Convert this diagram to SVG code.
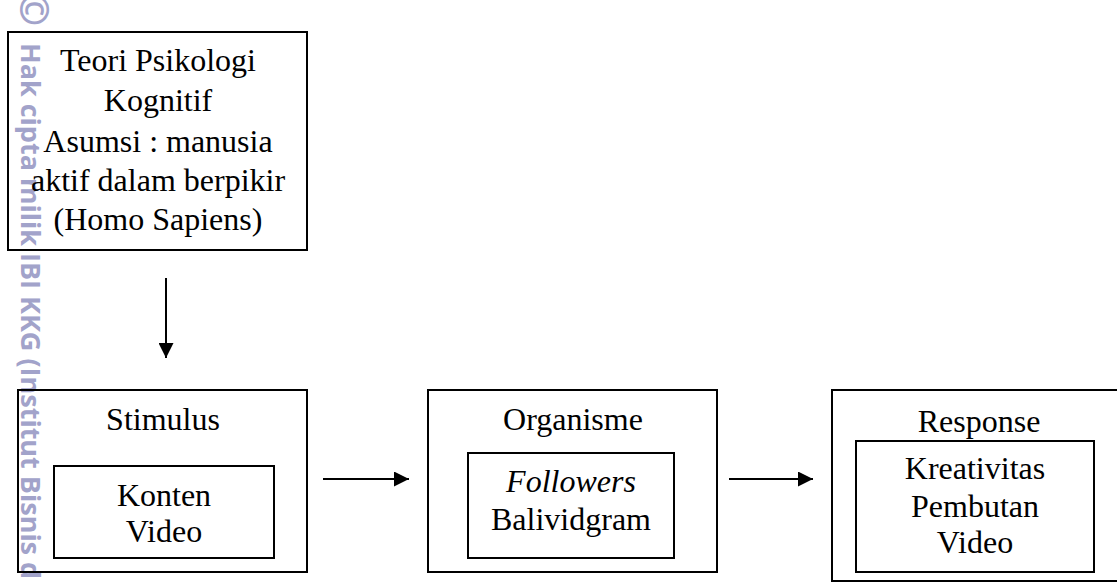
<svg xmlns="http://www.w3.org/2000/svg" width="1117" height="582" viewBox="0 0 1117 582">
<defs>
<style>
.box{fill:none;stroke:#000;stroke-width:2}
.t{font-family:"Liberation Serif","Times New Roman",serif;font-size:32px;fill:#000;text-anchor:middle}
.it{font-style:italic}
.wm{font-family:"Open Sans","DejaVu Sans",sans-serif;font-weight:bold;fill:#a2a3ca}
.conn{stroke:#000;stroke-width:2;fill:none}
</style>
<marker id="ah" markerWidth="15" markerHeight="15" viewBox="0 0 15 15" refX="15" refY="7.5" orient="auto" markerUnits="userSpaceOnUse">
<path d="M0,0 L15,7.5 L0,15 Z" fill="#000"/>
</marker>
</defs>
<rect width="1117" height="582" fill="#fff"/>
<g id="watermark">
<text class="wm" font-size="40" transform="translate(20,-7) rotate(90)">©</text>
<text class="wm" font-size="27" transform="translate(21,43) rotate(90)">Hak cipta milik IBI KKG (Institut Bisnis d</text>
</g>
<g id="teori">
<rect class="box" x="8" y="32" width="299" height="218"/>
<text class="t" x="158" y="71">Teori Psikologi</text>
<text class="t" x="158" y="111">Kognitif</text>
<text class="t" x="158" y="152">Asumsi : manusia</text>
<text class="t" x="158" y="191">aktif dalam berpikir</text>
<text class="t" x="158" y="230">(Homo Sapiens)</text>
</g>
<g id="stimulus">
<rect class="box" x="18" y="390" width="289" height="182"/>
<text class="t" x="163" y="430">Stimulus</text>
<rect class="box" x="54" y="466" width="220" height="92"/>
<text class="t" x="164" y="506">Konten</text>
<text class="t" x="164" y="542">Video</text>
</g>
<g id="organisme">
<rect class="box" x="428" y="390" width="289" height="182"/>
<text class="t" x="573" y="430">Organisme</text>
<rect class="box" x="468" y="453" width="206" height="105"/>
<text class="t it" x="571" y="492">Followers</text>
<text class="t" x="571" y="530">Balividgram</text>
</g>
<g id="response">
<rect class="box" x="832" y="390" width="300" height="191"/>
<text class="t" x="979" y="432">Response</text>
<rect class="box" x="856" y="441" width="238" height="131"/>
<text class="t" x="975" y="479">Kreativitas</text>
<text class="t" x="975" y="517">Pembutan</text>
<text class="t" x="975" y="553">Video</text>
</g>
<g id="connectors">
<line class="conn" x1="166" y1="278" x2="166" y2="358" marker-end="url(#ah)"/>
<line class="conn" x1="323" y1="479" x2="409" y2="479" marker-end="url(#ah)"/>
<line class="conn" x1="729" y1="479" x2="813" y2="479" marker-end="url(#ah)"/>
</g>
</svg>
